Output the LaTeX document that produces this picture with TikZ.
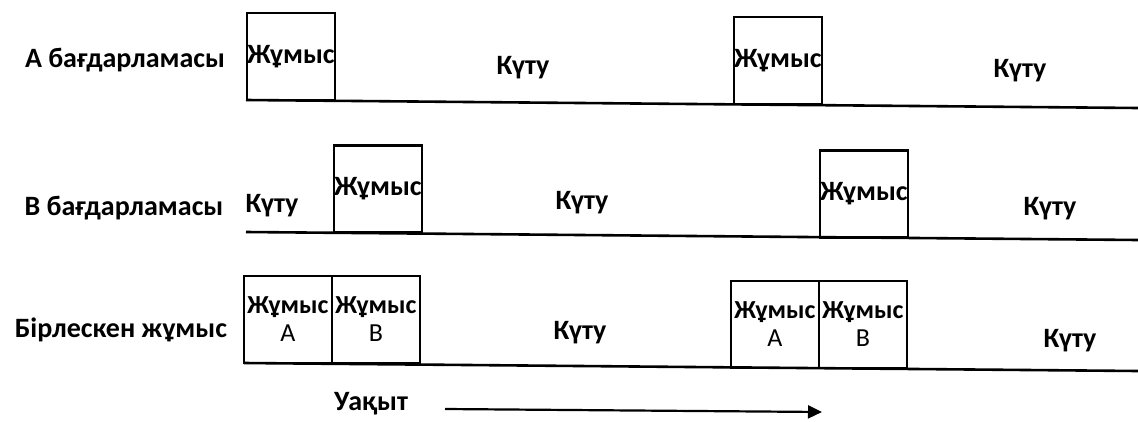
\documentclass[tikz,border=0pt]{standalone}
\usepackage{fontspec}
\setmainfont{Carlito}
\usetikzlibrary{arrows.meta}
\tikzset{
  lbl/.style={font=\fontsize{28}{30}\selectfont\bfseries, inner sep=0pt},
  jobbox/.style={draw, line width=2.6pt, minimum width=88pt, minimum height=87pt,
    inner sep=0pt, align=center, font=\fontsize{28}{28}\selectfont\bfseries},
  pairbox/.style={jobbox, font=\fontsize{26}{27}\selectfont\bfseries},
  axis/.style={line width=2.6pt},
}
\newcommand{\jobAB}[1]{Жұмыс\\[1pt]{\mdseries #1}}
\begin{document}
\begin{tikzpicture}[x=1pt,y=-1pt]
  \useasboundingbox (0,0) rectangle (1138,421);
  % row labels
  \node[lbl] (rowA) at (125,60) {А бағдарламасы};
  \node[lbl] (rowB) at (124,208) {В бағдарламасы};
  \node[lbl] (rowC) at (121,330) {Бірлескен жұмыс};

  % program A
  \draw[axis] (246,100) -- (1138,108);
  \node[jobbox] (a1) at (291,56.5) {Жұмыс};
  \node[jobbox] (a2) at (778,60.5) {Жұмыс};
  \node[lbl] (waitA1) at (523,68) {Күту};
  \node[lbl] (waitA2) at (1020,71) {Күту};

  % program B
  \draw[axis] (246,232) -- (1138,240);
  \node[jobbox] (b1) at (378,189) {Жұмыс};
  \node[jobbox] (b2) at (864,194) {Жұмыс};
  \node[lbl] (waitB1) at (272,206) {Күту};
  \node[lbl] (waitB2) at (582,203) {Күту};
  \node[lbl] (waitB3) at (1050,209) {Күту};

  % both together
  \draw[axis] (244,363) -- (1138,371);
  \node[pairbox] (c1) at (288,319.5) {\jobAB{A}};
  \node[pairbox] (c2) at (376,319.5) {\jobAB{B}};
  \node[pairbox] (c3) at (775,324.5) {\jobAB{A}};
  \node[pairbox] (c4) at (863,324.5) {\jobAB{B}};
  \node[lbl] (waitC1) at (580,333) {Күту};
  \node[lbl] (waitC2) at (1070,341) {Күту};

  % time axis
  \node[lbl] (time) at (371,404) {Уақыт};
  \coordinate (t0) at (445,409);
  \coordinate (t1) at (822,412);
  \draw[line width=2.2pt, -{Triangle[length=14pt,width=13pt]}] (t0) -- (t1);
\end{tikzpicture}
\end{document}
